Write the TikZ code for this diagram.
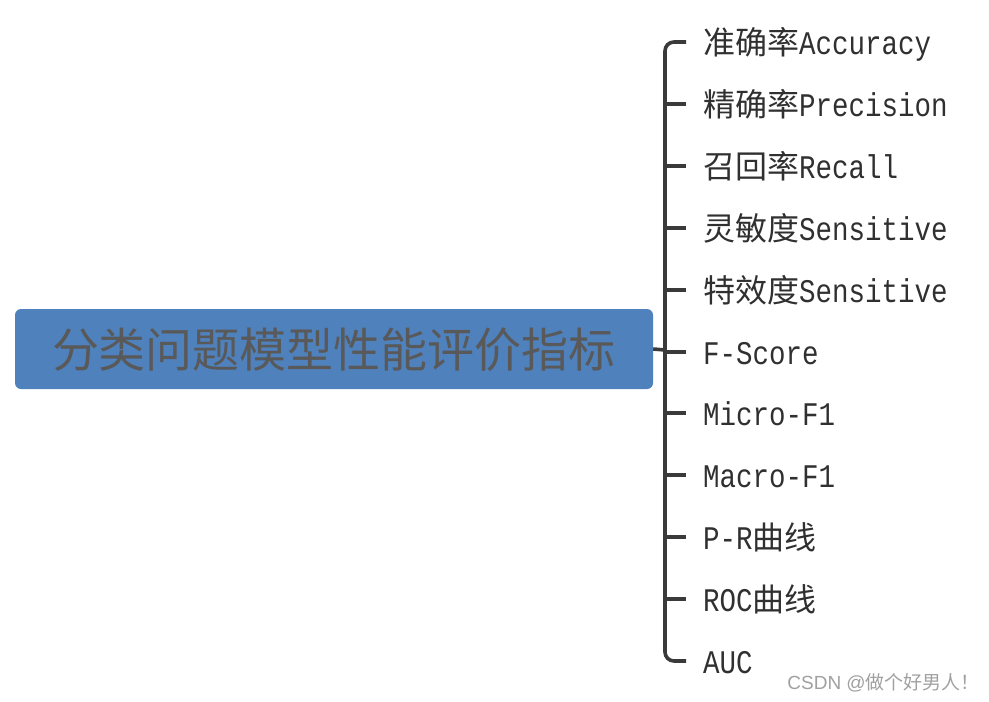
\documentclass[tikz,border=0pt]{standalone}
\usepackage{fontspec}
\usepackage{graphicx}
\setmainfont{Liberation Mono}
\newfontfamily\cjk{Noto Sans CJK SC}
\newfontfamily\wmfont{Liberation Sans}
\definecolor{boxblue}{HTML}{4F81BD}
\definecolor{titlegray}{HTML}{595959}
\definecolor{brk}{HTML}{3A3A3A}
\definecolor{labtxt}{HTML}{303030}
\definecolor{wm}{HTML}{A0A0A0}
\begin{document}
\begin{tikzpicture}[x=1pt,y=-1pt,
  titlebox/.style={fill=boxblue, rounded corners=6pt, minimum width=638pt, minimum height=80pt,
    inner sep=0pt, text=titlegray, font=\cjk\fontsize{47}{50}\selectfont, text height=40pt, text depth=4pt},
  leaf/.style={anchor=west, inner xsep=0pt, inner ysep=0pt, text=labtxt,
    font=\fontsize{27.5}{30}\selectfont, text height=28pt, text depth=4pt},
  brkline/.style={draw=brk, line width=3.6pt, line cap=butt},
]
\useasboundingbox (0,0) rectangle (989,702);
\newcommand{\cn}[1]{{\cjk\fontsize{32}{34}\selectfont #1}}
\newcommand{\lt}[1]{\scalebox{1}[1.2]{#1}}
\node[titlebox] (root) at (334,349) {分类问题模型性能评价指标};

\coordinate (trunkmid) at (665,350);
\foreach \n/\y in {1/42,2/104,3/166,4/228,5/290,6/352,7/413,8/475,9/537,10/599,11/661}{
  \coordinate (t\n) at (686,\y);
}
\node[leaf] (l1)  at (703,42)  {\cn{准确率}\lt{Accuracy}};
\node[leaf] (l2)  at (703,104) {\cn{精确率}\lt{Precision}};
\node[leaf] (l3)  at (703,166) {\cn{召回率}\lt{Recall}};
\node[leaf] (l4)  at (703,228) {\cn{灵敏度}\lt{Sensitive}};
\node[leaf] (l5)  at (703,290) {\cn{特效度}\lt{Sensitive}};
\node[leaf] (l6)  at (703,352) {\lt{F-Score}};
\node[leaf] (l7)  at (703,413) {\lt{Micro-F1}};
\node[leaf] (l8)  at (703,475) {\lt{Macro-F1}};
\node[leaf] (l9)  at (703,537) {\lt{P-R}\cn{曲线}};
\node[leaf] (l10) at (703,599) {\lt{ROC}\cn{曲线}};
\node[leaf] (l11) at (703,661) {\lt{AUC}};

\draw[brkline, rounded corners=9pt] (t1) -| (trunkmid) |- (t11);
\foreach \n/\y in {2/104,3/166,4/228,5/290,6/352,7/413,8/475,9/537,10/599}{
  \draw[brkline] (665,\y) -- (t\n);
}
\draw[brkline] (root.east) -- (trunkmid);

\node[anchor=east, text=wm, font=\wmfont\fontsize{19}{22}\selectfont, inner sep=0pt] (wmk) at (980,683) {CSDN @{\cjk 做个好男人！}};
\end{tikzpicture}
\end{document}
